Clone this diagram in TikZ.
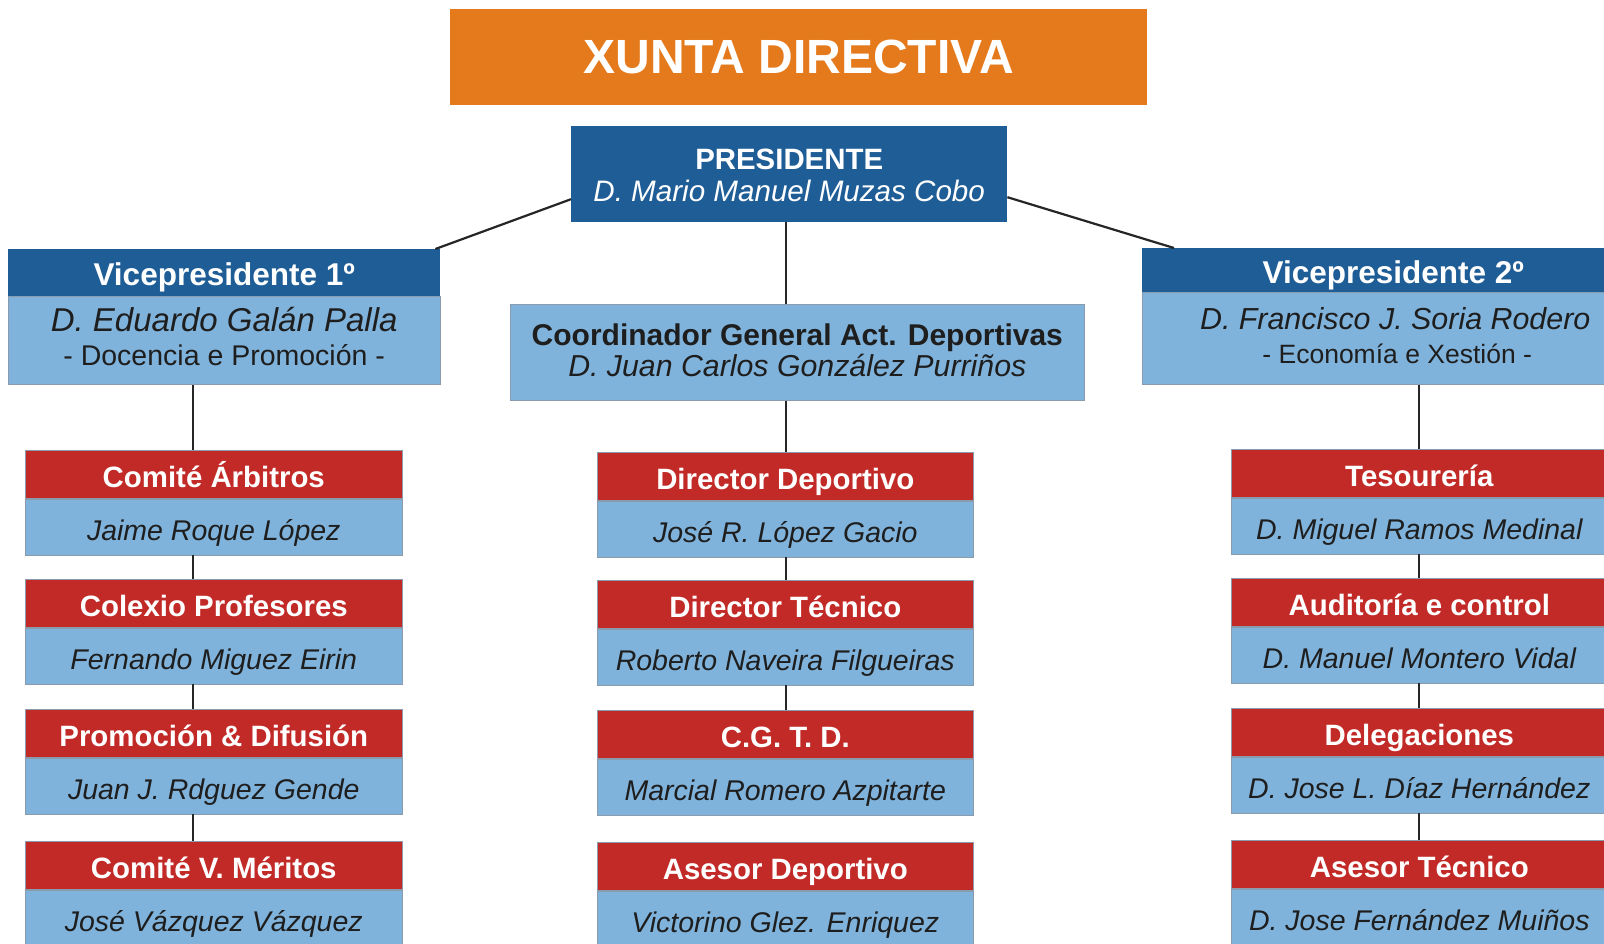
\documentclass[tikz,border=0pt]{standalone}
\usepackage{fontspec}
\setmainfont{Liberation Sans}
\newfontfamily\titlefont{Liberation Sans}
\usetikzlibrary{calc}
\definecolor{orangeX}{HTML}{E57A1C}
\definecolor{darkB}{HTML}{1F5D96}
\definecolor{lightB}{HTML}{80B3DB}
\definecolor{redX}{HTML}{C22A27}
\definecolor{inkX}{HTML}{1E1E1E}
\definecolor{edgeX}{HTML}{8A9BAE}
\newcommand\orgcard[6]{%
  \node[redhead, minimum width=#4pt] (#1h) at (#2,#3) {#5};
  \node[bluebody, minimum width=#4pt, anchor=north] (#1b) at (#1h.south) {#6};
}
\begin{document}
\begin{tikzpicture}[x=1pt,y=-1pt,
  redhead/.style={fill=redX, draw=edgeX, line width=0.6pt, text=white, inner sep=0pt,
    minimum height=48pt, anchor=north west, text height=26pt, text depth=0pt,
    font=\bfseries\fontsize{29.4}{34}\selectfont},
  bluebody/.style={fill=lightB, draw=edgeX, line width=0.6pt, text=inkX, inner sep=0pt,
    minimum height=56pt, text height=26.4pt, text depth=0pt,
    font=\itshape\fontsize{28.5}{33}\selectfont},
  darkbox/.style={fill=darkB, text=white, inner sep=0pt, anchor=north west},
  lightbox/.style={fill=lightB, draw=edgeX, line width=0.6pt, inner sep=0pt},
  lbl/.style={anchor=base, inner sep=0pt},
  conn/.style={draw=black!85, line width=1.6pt},
  diag/.style={draw=black!85, line width=2.2pt}]
\clip (0,0) rectangle (1604,944);
\fill[white] (0,0) rectangle (1604,944);

% title
\node[fill=orangeX, text=white, inner sep=0pt, anchor=north west,
  minimum width=697pt, minimum height=96pt,
  font=\titlefont\bfseries\fontsize{48}{56}\selectfont] (title) at (450,9) {XUNTA DIRECTIVA};

% president
\node[darkbox, minimum width=436pt, minimum height=96pt] (pres) at (571,126) {};
\node[lbl, text=white, font=\bfseries\fontsize{29.4}{34}\selectfont] (presT)
  at ($(pres.north)+(0,43.1)$) {PRESIDENTE};
\node[lbl, text=white, font=\itshape\fontsize{29.6}{34}\selectfont] (presN)
  at ($(pres.north)+(0,75.9)$) {D. Mario Manuel Muzas Cobo};

% vice president 1
\node[darkbox, minimum width=432pt, minimum height=47pt, text height=25.6pt, text depth=0pt,
  font=\bfseries\fontsize{31.5}{36}\selectfont] (vp1h) at (8,249) {Vicepresidente 1º};
\node[lightbox, anchor=north, minimum width=432pt, minimum height=88pt] (vp1b) at (vp1h.south) {};
\node[lbl, text=inkX, font=\itshape\fontsize{33}{38}\selectfont] (vp1N)
  at ($(vp1b.north)+(0,35.2)$) {D. Eduardo Galán Palla};
\node[lbl, text=inkX, font=\fontsize{28.5}{33}\selectfont] (vp1A)
  at ($(vp1b.north)+(0,69)$) {- Docencia e Promoción -};

% vice president 2
\node[darkbox, minimum width=502pt, minimum height=44pt, text height=26.6pt, text depth=0pt,
  font=\bfseries\fontsize{31.5}{36}\selectfont] (vp2h) at (1142,248) {Vicepresidente 2º};
\node[lightbox, anchor=north, minimum width=502pt, minimum height=92pt] (vp2b) at (vp2h.south) {};
\node[lbl, text=inkX, font=\itshape\fontsize{30.4}{35}\selectfont] (vp2N)
  at ($(vp2b.north)+(2,37.5)$) {D. Francisco J. Soria Rodero};
\node[lbl, text=inkX, font=\fontsize{26.5}{31}\selectfont] (vp2A)
  at ($(vp2b.north)+(4,71.5)$) {- Economía e Xestión -};

% coordinator
\node[lightbox, anchor=north west, minimum width=574pt, minimum height=96pt] (coord) at (510,304) {};
\node[lbl, text=inkX, font=\bfseries\fontsize{30}{35}\selectfont] (coordT)
  at ($(coord.north)+(0,41.2)$) {Coordinador General Act. Deportivas};
\node[lbl, text=inkX, font=\itshape\fontsize{30.3}{35}\selectfont] (coordN)
  at ($(coord.north)+(0,72.9)$) {D. Juan Carlos González Purriños};

% left column
\orgcard{arb}{25}{450}{377}{Comité Árbitros}{Jaime Roque López}
\orgcard{col}{25}{579}{377}{Colexio Profesores}{Fernando Miguez Eirin}
\orgcard{pro}{25}{709}{377}{Promoción \& Difusión}{Juan J. Rdguez Gende}
\orgcard{mer}{25}{841}{377}{Comité V. Méritos}{José Vázquez Vázquez}

% middle column
\orgcard{dd}{597}{452}{376}{Director Deportivo}{José R. López Gacio}
\orgcard{dt}{597}{580}{376}{Director Técnico}{Roberto Naveira Filgueiras}
\orgcard{cg}{597}{710}{376}{C.G. T. D.}{Marcial Romero Azpitarte}
\orgcard{ase}{597}{842}{376}{Asesor Deportivo}{Victorino Glez. Enriquez}

% right column
\orgcard{tes}{1231}{449}{376}{Tesourería}{D. Miguel Ramos Medinal}
\orgcard{aud}{1231}{578}{376}{Auditoría e control}{D. Manuel Montero Vidal}
\orgcard{del}{1231}{708}{376}{Delegaciones}{D. Jose L. Díaz Hernández}
\orgcard{ast}{1231}{840}{376}{Asesor Técnico}{D. Jose Fernández Muiños}

% connector guides
\coordinate (lx) at (193,0);
\coordinate (mx) at (786,0);
\coordinate (rx) at (1419,0);

% diagonals
\draw[diag] ($(pres.west)+(0,25)$) -- ($(vp1h.north east)+(-5,0)$);
\draw[diag] ($(pres.east)+(0,23)$) -- ($(vp2h.north west)+(32,0)$);

% middle
\draw[conn] (pres.south -| mx) -- (coord.north -| mx);
\draw[conn] (coord.south -| mx) -- (ddh.north -| mx);
\draw[conn] (ddb.south -| mx) -- (dth.north -| mx);
\draw[conn] (dtb.south -| mx) -- (cgh.north -| mx);

% left
\draw[conn] (vp1b.south -| lx) -- (arbh.north -| lx);
\draw[conn] (arbb.south -| lx) -- (colh.north -| lx);
\draw[conn] (colb.south -| lx) -- (proh.north -| lx);
\draw[conn] (prob.south -| lx) -- (merh.north -| lx);

% right
\draw[conn] (vp2b.south -| rx) -- (tesh.north -| rx);
\draw[conn] (tesb.south -| rx) -- (audh.north -| rx);
\draw[conn] (audb.south -| rx) -- (delh.north -| rx);
\draw[conn] (delb.south -| rx) -- (asth.north -| rx);
\end{tikzpicture}
\end{document}
